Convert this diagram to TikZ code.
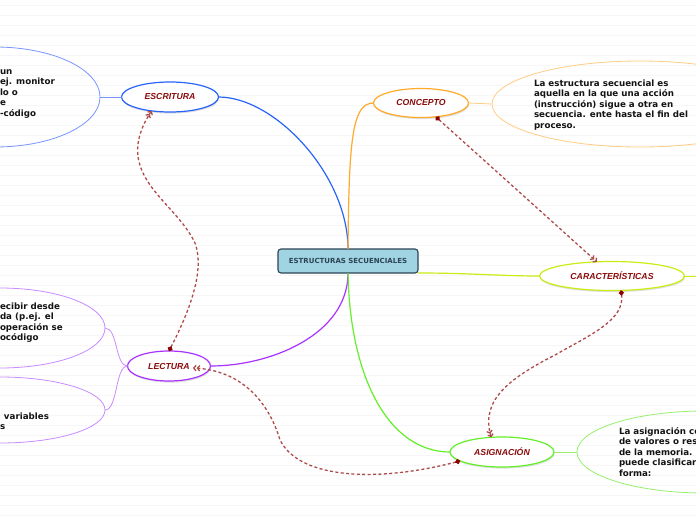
\documentclass[tikz,border=0pt]{standalone}
\usepackage{fontspec}
\setmainfont{DejaVu Sans}
\newfontfamily\labfont{Liberation Sans}
\usetikzlibrary{shapes.geometric,arrows.meta,shadows}
\definecolor{cbox}{RGB}{160,212,226}
\definecolor{cboxd}{RGB}{44,68,84}
\definecolor{labred}{RGB}{140,12,12}
\definecolor{cblue}{RGB}{40,100,250}
\definecolor{cbluel}{RGB}{120,150,255}
\definecolor{corange}{RGB}{255,170,40}
\definecolor{corl}{RGB}{255,205,130}
\definecolor{cyel}{RGB}{205,235,20}
\definecolor{cgreen}{RGB}{100,240,40}
\definecolor{cgrl}{RGB}{150,240,110}
\definecolor{cpurple}{RGB}{170,50,255}
\definecolor{cpurl}{RGB}{200,140,255}
\definecolor{relc}{RGB}{175,75,75}
\definecolor{reldot}{RGB}{140,0,0}
\definecolor{stripe}{RGB}{246,246,246}
\begin{document}
\begin{tikzpicture}[x=1pt,y=-1pt,
  mainbox/.style={rectangle,rounded corners=3pt,fill=cbox,draw=cboxd,line width=1.1pt,
    minimum width=140pt,minimum height=24pt,inner sep=0pt,outer sep=0pt,
    font=\bfseries\fontsize{7}{8}\selectfont,text=cboxd},
  topic/.style={ellipse,fill=white,line width=1.2pt,inner sep=0pt,outer sep=0pt,
    font=\labfont\bfseries\itshape\fontsize{8.7}{10}\selectfont,text=labred,
    drop shadow={shadow xshift=0.6pt,shadow yshift=-1.6pt,opacity=0.25}},
  bigell/.style={ellipse,line width=0.8pt,inner sep=0pt,outer sep=0pt},
  txt/.style={align=left,inner sep=0pt,outer sep=0pt,anchor=north west,
    font=\bfseries\fontsize{8.7}{10.6}\selectfont,text=black!92},
  mainline/.style={line width=1.2pt},
  subline/.style={line width=0.8pt},
  rel/.style={draw=relc,line width=1.3pt,dash pattern=on 3pt off 2.4pt,
    {Circle[length=5pt,color=reldot]}-{Straight Barb[length=2.2pt,width=5.5pt]Straight Barb[length=2.2pt,width=5.5pt]}}
]
\clip (0,0) rectangle (696,520);
\fill[white] (0,0) rectangle (696,520);
\foreach \yy in {5,15,...,515} \draw[stripe,line width=0.8pt] (0,\yy) -- (696,\yy);

% big child ellipses
\node[bigell,draw=cbluel,minimum width=210pt,minimum height=100pt] (escb) at (-5,97) {};
\node[bigell,draw=cpurl,minimum width=210pt,minimum height=80pt] (lec1) at (0,328) {};
\node[bigell,draw=cpurl,minimum width=210pt,minimum height=66pt] (lec2) at (0,410) {};
\node[bigell,draw=corl,minimum width=296pt,minimum height=86pt] (conb) at (640,104) {};
\node[bigell,draw=cgrl,minimum width=256pt,minimum height=82pt] (asgb) at (705,452) {};

% texts
\node[txt] (escbt) at (0,66) {\rule{0pt}{8pt}un\\ej. monitor\\lo o\\e\\-código};
\node[txt] (lec1t) at (0,301) {\rule{0pt}{8pt}ecibir desde\\da (p.ej. el\\operación se\\ocódigo};
\node[txt] (lec2t) at (0,411) {\rule{0pt}{8pt}\hspace*{4pt}variables\\s};
\node[txt] (conbt) at (534,78) {\rule{0pt}{8pt}La estructura secuencial es\\aquella en la que una acción\\(instrucción) sigue a otra en\\secuencia. ente hasta el fin del\\proceso.};
\node[txt] (asgbt) at (619,426) {\rule{0pt}{8pt}La asignación co\\de valores o res\\de la memoria. D\\puede clasificar\\forma:};

% main nodes
\node[mainbox] (c) at (348,261) {ESTRUCTURAS SECUENCIALES};
\node[topic,draw=cblue,minimum width=97pt,minimum height=30pt] (esc) at (170,97) {ESCRITURA};
\node[topic,draw=corange,minimum width=95pt,minimum height=29pt] (con) at (421,103) {CONCEPTO};
\node[topic,draw=cyel,minimum width=145pt,minimum height=29pt] (car) at (612,276) {CARACTERÍSTICAS};
\node[topic,draw=cgreen,minimum width=104pt,minimum height=30pt] (asg) at (502,452) {ASIGNACIÓN};
\node[topic,draw=cpurple,minimum width=83pt,minimum height=30pt] (lec) at (169,366) {LECTURA};
\coordinate (carR) at (700,276);
\coordinate (lecin) at (193,368);

% main connectors
\draw[mainline,cblue] (c.north) .. controls (348,175) and (275,97) .. (esc.east);
\draw[mainline,corange] (c.north) .. controls (349,140) and (352,103) .. (con.west);
\draw[mainline,cpurple] (c.south) .. controls (348,335) and (270,366) .. (lec.east);
\draw[mainline,cgreen] (c.south) .. controls (350,380) and (390,452) .. (asg.west);
\draw[mainline,cyel] (c.south east) .. controls (470,273) and (500,276) .. (car.west);
\draw[subline,cyel] (car.east) -- (carR);

% child connectors
\draw[subline,cbluel] (esc.west) -- (escb.east);
\draw[subline,corl] (con.east) -- (conb.west);
\draw[subline,cgrl] (asg.east) -- (asgb.west);
\draw[subline,cpurl] (lec.west) .. controls (115,366) and (118,328) .. (lec1.east);
\draw[subline,cpurl] (lec.west) .. controls (115,366) and (118,410) .. (lec2.east);

% relations
\draw[rel] (con.-43) -- (car.137);
\draw[rel] (car.-58) .. controls (625,320) and (590,335) .. (555,355) .. controls (510,378) and (480,400) .. (asg.126);
\draw[rel] (asg.192) .. controls (380,482) and (300,480) .. (280,440) .. controls (268,400) and (240,370) .. (lecin);
\draw[rel] (lec.north) .. controls (190,310) and (205,270) .. (195,243) .. controls (175,200) and (110,175) .. (esc.217);
\end{tikzpicture}
\end{document}
